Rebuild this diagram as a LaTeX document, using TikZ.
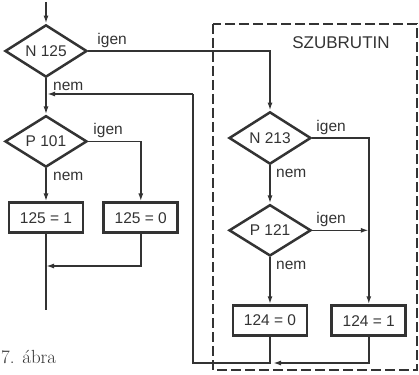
\documentclass[tikz,border=0pt]{standalone}
\usepackage{fontspec}
\setsansfont{Liberation Sans}
\usetikzlibrary{shapes.geometric,arrows.meta,positioning,calc}
\definecolor{ink}{gray}{0.2}
\tikzset{
  dia/.style={
    diamond, draw=ink, line width=2.5pt, minimum width=82pt,
    minimum height=51pt, inner sep=0pt, text=ink,
    font=\sffamily\fontsize{15.5}{18}\selectfont
  },
  res/.style={
    rectangle, draw=ink, line width=2.8pt, minimum width=74pt,
    minimum height=30pt, inner sep=1pt, text=ink,
    font=\sffamily\fontsize{15.5}{18}\selectfont
  },
  arr/.style={-{Latex[length=8pt,width=5pt]}, line width=1.6pt, ink},
  ln/.style={line width=1.6pt, ink},
  lbl/.style={font=\sffamily\fontsize{15.5}{18}\selectfont, text=ink, inner sep=1pt},
  frame/.style={draw=ink, line width=1.5pt, dash pattern=on 10pt off 4pt}
}
\begin{document}
\begin{tikzpicture}[x=1pt,y=-1pt]
  \useasboundingbox (0,0) rectangle (419,374);

  % subroutine frame
  \draw[frame] (213,24) rectangle (417,370);
  \node[lbl, font=\sffamily\fontsize{17}{20}\selectfont] (szub) at (341,43) {SZUBRUTIN};

  % main routine
  \node[dia] (n125) at (46,51) {N 125};
  \node[dia, below=36pt of n125] (p101) {P 101};
  \node[res, below=33pt of p101] (b125one) {125 = 1};
  \node[res, right=18pt of b125one] (b125zero) {125 = 0};

  % subroutine
  \node[dia] (n213) at (270,138) {N 213};
  \node[dia, below=38pt of n213] (p121) {P 121};
  \node[res, below=47pt of p121] (b124zero) {124 = 0};
  \node[res, right=22pt of b124zero] (b124one) {124 = 1};

  % labels
  \node[lbl, above right=2pt and 8pt of n125.east] (ig1) {igen};
  \node[lbl, below right=3pt and 6pt of n125.south] (ne1) {nem};
  \node[lbl, above right=2pt and 4pt of p101.east] (ig2) {igen};
  \node[lbl, below right=3pt and 6pt of p101.south] (ne2) {nem};
  \node[lbl, above right=2pt and 3pt of n213.east] (ig3) {igen};
  \node[lbl, below right=3pt and 5pt of n213.south] (ne3) {nem};
  \node[lbl, above right=2pt and 3pt of p121.east] (ig4) {igen};
  \node[lbl, below right=3pt and 5pt of p121.south] (ne4) {nem};

  \node[font=\rmfamily\fontsize{19}{22}\selectfont, text=ink, anchor=west, inner sep=0pt]
    (caption) at (1,357) {7. ábra};

  \coordinate (start) at (46,2);
  \coordinate (endl) at (46,310);
  \coordinate (j1) at (46,266);
  \coordinate (bot) at (193,363);
  \coordinate (ret) at (193,94);
  \coordinate (j2) at (b124zero.south |- bot);
  \coordinate (j3) at (n125.south |- ret);
  \coordinate (j4) at (b124one.north |- p121.east);

  \draw[arr] (start) -- (n125.north);
  \draw[arr] (n125.east) -| (n213.north);
  \draw[arr] (n125.south) -- (p101.north);
  \draw[arr] (p101.east) -| (b125zero.north);
  \draw[arr] (p101.south) -- (b125one.north);
  \draw[ln] (b125one.south) -- (endl);
  \draw[arr] (b125zero.south) |- (j1);

  \draw[arr] (n213.south) -- (p121.north);
  \draw[arr] (n213.east) -| (b124one.north);
  \draw[arr] (p121.east) -- (j4);
  \draw[arr] (p121.south) -- (b124zero.north);

  \draw[arr, shorten >=3pt] (b124one.south) |- (j2);
  \draw[ln] (b124zero.south) -- (j2) -- (bot) -- (ret);
  \draw[arr, shorten >=1pt] (ret) -- (j3);
\end{tikzpicture}
\end{document}
